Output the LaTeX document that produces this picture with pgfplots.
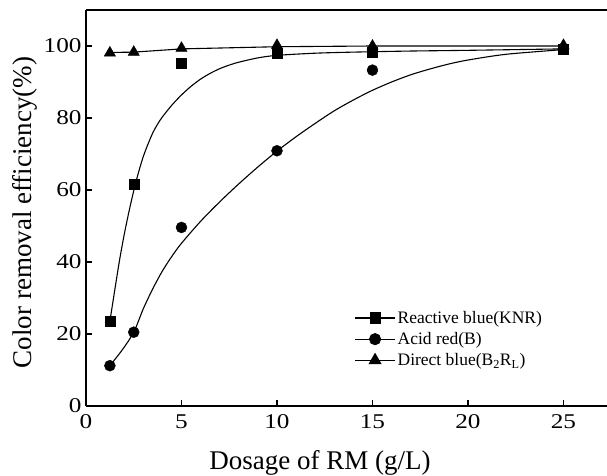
\documentclass[border=0pt]{standalone}
\usepackage{fontspec}
\setmainfont{Liberation Serif}
\newfontfamily\tfont[FakeStretch=1.2]{Liberation Serif}
\usepackage{pgfplots}
\pgfplotsset{compat=1.18}

\begin{document}
\begin{tikzpicture}
\begin{axis}[
  at={(0,0)}, anchor=south west,
  scale only axis, width=521pt, height=396pt,
  xmin=0, xmax=27.28, ymin=0, ymax=110,
  axis y line*=left,
  y axis line style={-},
  axis line style={line width=1.3pt},
  xtick={0,5,10,15,20,25},
  ytick={0,20,40,60,80,100},
  xtick pos=left, ytick pos=left,
  tick align=inside,
  major tick length=6pt,
  every tick/.style={line width=1.2pt, black},
  /pgf/number format/assume math mode=true,
  xticklabel style={font=\tfont\fontsize{21}{21}\selectfont, yshift=-5pt},
  yticklabel style={font=\tfont\fontsize{21}{21}\selectfont, xshift=-1pt},
  xlabel={\fontsize{27}{27}\selectfont Dosage of RM (g/L)},
  x label style={at={(axis description cs:0.449,0)}, anchor=north, inner sep=0pt, yshift=-44pt},
  ylabel={\fontsize{27}{27}\selectfont Color removal efficiency(\%)},
  y label style={at={(axis description cs:-0.0921,0.489)}, anchor=south, inner sep=0pt},
  legend cell align=left,
  legend style={at={(axis description cs:0.515,0.245)}, anchor=north west, draw=none, fill=none,
    font=\fontsize{17.5}{17.5}\selectfont, row sep=3.5pt, inner sep=0pt},
  legend image code/.code={\draw[mark repeat=2,mark phase=2,#1] plot coordinates {(0pt,0pt) (20pt,0pt) (40pt,0pt)};},
]
% fitted curves
\addplot[black, line width=1.1pt, smooth, forget plot] coordinates {
 (1.25,23.5) (1.5,32.0) (1.75,40.3) (2.0,47.6) (2.25,54.0) (2.5,59.8) (2.75,64.9) (3.0,69.3)
 (3.25,72.8) (3.5,75.9) (3.75,78.3) (4.0,80.3) (4.5,83.6) (5.0,86.4) (5.5,88.8) (6.0,90.8)
 (6.5,92.4) (7.0,93.7) (7.5,94.7) (8.0,95.5) (9.0,96.7) (10,97.4) (12,98.0) (14,98.3)
 (17,98.6) (20,98.8) (25,99.2)};
\addplot[black, line width=1.1pt, smooth, forget plot] coordinates {
 (1.25,11.2) (1.9,15.6) (2.5,20.5) (3.0,27.0) (3.5,32.6) (4.0,37.5) (4.5,41.6) (5.0,45.2)
 (6.0,51.3) (7.0,56.7) (8.0,61.7) (9.0,66.4) (10.0,70.8) (11.0,74.8) (12.0,78.5) (13.0,82.0)
 (14.0,85.0) (15.0,87.7) (16.0,90.0) (17.0,92.0) (18.0,93.6) (19.0,95.0) (20.0,96.1)
 (22.0,97.7) (25.0,99.0)};
\addplot[black, line width=1.1pt, forget plot] coordinates {
 (1.25,98.2) (2.5,98.3) (5,99.2) (10,99.8) (15,100) (25,100)};
% data points
\addplot[only marks, mark=square*, mark size=5pt, black, forget plot] coordinates {
 (1.25,23.5) (2.5,61.5) (5,95.1) (10,98.0) (15,98.4) (25,99.1)};
\addplot[only marks, mark=*, mark size=5.5pt, black, forget plot] coordinates {
 (1.25,11.2) (2.5,20.5) (5,49.6) (10,70.9) (15,93.3) (25,99.1)};
\addplot[only marks, mark=triangle*, mark size=6.5pt, black, forget plot] coordinates {
 (1.25,98.1) (2.5,98.3) (5,99.4) (10,100.2) (15,100.0) (25,100.2)};
\addlegendimage{black, line width=1.1pt, mark=square*, mark size=5pt}
\addlegendentry{Reactive blue(KNR)}
\addlegendimage{black, line width=1.1pt, mark=*, mark size=5.5pt}
\addlegendentry{Acid red(B)}
\addlegendimage{black, line width=1.1pt, mark=triangle*, mark size=6.5pt}
\addlegendentry{Direct blue(B\textsubscript{2}R\textsubscript{L})}
\end{axis}
\pgfresetboundingbox
\path[use as bounding box] (-86pt,-69pt) rectangle (521pt,406pt);
\end{tikzpicture}
\end{document}
